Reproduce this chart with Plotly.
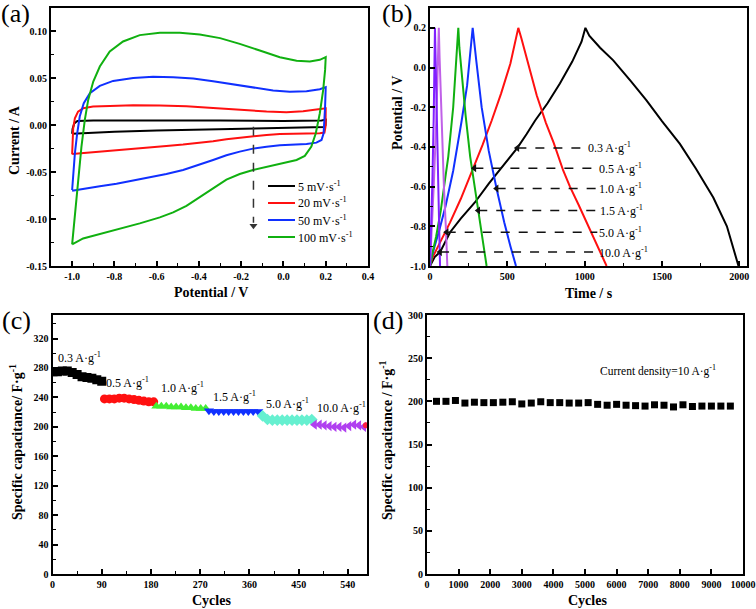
import plotly.graph_objects as go

# ---------------- (a) cyclic voltammetry ----------------
cv_names = ["5 mV·s<sup>-1</sup>", "20 mV·s<sup>-1</sup>", "50 mV·s<sup>-1</sup>", "100 mV·s<sup>-1</sup>"]
cv_colors = ["#000000", "#ff1010", "#1030ff", "#10b010"]

cv5_v = [-1.0, -0.998, -0.99, -0.975, -0.9, -0.6, -0.3, 0.0, 0.1, 0.18, 0.2,
         0.199, 0.195, 0.15, 0.0, -0.2, -0.4, -0.6, -0.8, -1.0, -1.0]
cv5_i = [-0.009, -0.004, 0.002, 0.0045, 0.0052, 0.0056, 0.0052, 0.0045, 0.0045, 0.005, 0.006,
         0.0, -0.0018, -0.002, -0.0025, -0.003, -0.004, -0.0055, -0.007, -0.0085, -0.009]

cv20_v = [-1.0, -0.998, -0.995, -0.987, -0.972, -0.948, -0.901, -0.822, -0.711, -0.585, -0.459,
          -0.333, -0.207, -0.08, 0.014, 0.093, 0.156, 0.2,
          0.199, 0.194, 0.172, 0.109, 0.046, -0.017, -0.08, -0.144, -0.207, -0.27, -0.333,
          -0.396, -0.475, -0.554, -0.632, -0.711, -0.79, -0.869, -0.948, -1.0]
cv20_i = [-0.031, -0.0157, -0.0032, 0.0075, 0.0146, 0.0181, 0.0199, 0.0206, 0.0214, 0.021, 0.0203,
          0.0185, 0.0164, 0.0146, 0.0139, 0.0149, 0.0167, 0.0181,
          -0.0014, -0.0078, -0.0085, -0.0085, -0.0085, -0.0093, -0.0103, -0.0117, -0.0132, -0.0149, -0.0171,
          -0.0189, -0.0206, -0.0221, -0.0235, -0.0249, -0.0263, -0.0278, -0.0292, -0.0306]

cv50_v = [-1.0, -0.995, -0.987, -0.976, -0.964, -0.945, -0.916, -0.869, -0.806, -0.711, -0.617,
          -0.522, -0.427, -0.333, -0.238, -0.144, -0.049, 0.03, 0.109, 0.172, 0.2,
          0.197, 0.19, 0.18, 0.156, 0.109, 0.046, -0.017, -0.08, -0.144, -0.207, -0.27, -0.333,
          -0.396, -0.475, -0.554, -0.632, -0.711, -0.79, -0.869, -0.948, -1.0]
cv50_i = [-0.069, -0.0512, -0.03, -0.0085, 0.0093, 0.0235, 0.0342, 0.042, 0.0473, 0.0505, 0.0516,
          0.0512, 0.0498, 0.047, 0.0434, 0.0399, 0.037, 0.0356, 0.0363, 0.0384, 0.0406,
          0.02, -0.0085, -0.0157, -0.0185, -0.02, -0.0206, -0.0214, -0.0228, -0.0249, -0.0281, -0.032, -0.037,
          -0.042, -0.0477, -0.052, -0.0555, -0.0591, -0.0623, -0.0651, -0.0676, -0.0698]

cv100_v = [-1.0, -0.987, -0.972, -0.956, -0.94, -0.924, -0.9, -0.869, -0.822, -0.759, -0.68,
           -0.585, -0.49, -0.396, -0.3, -0.207, -0.112, -0.017, 0.062, 0.125, 0.172, 0.2,
           0.197, 0.188, 0.172, 0.153, 0.132, 0.101, 0.062, 0.014, -0.033, -0.08, -0.144, -0.207,
           -0.27, -0.333, -0.396, -0.459, -0.522, -0.585, -0.68, -0.774, -0.869, -0.948, -1.0]
cv100_i = [-0.127, -0.094, -0.058, -0.023, 0.0057, 0.027, 0.0466, 0.0626, 0.0786, 0.0893, 0.0961,
           0.0986, 0.0986, 0.0968, 0.0929, 0.0868, 0.0797, 0.0726, 0.0687, 0.068, 0.0698, 0.0726,
           0.059, 0.0377, 0.0128, -0.0085, -0.0228, -0.0327, -0.037, -0.0395, -0.0413, -0.0441, -0.0477, -0.052,
           -0.058, -0.0673, -0.0769, -0.0858, -0.0929, -0.0982, -0.1046, -0.11, -0.1153, -0.1206, -0.127]

cv_arrow_v = [-0.142, -0.142]
cv_arrow_i = [-0.0015, -0.104]
cv_arrow_head_i = [-0.107]

a_xticks = [-1.0, -0.8, -0.6, -0.4, -0.2, 0.0, 0.2, 0.4]
a_xlabels = ["-1.0", "-0.8", "-0.6", "-0.4", "-0.2", "0.0", "0.2", "0.4"]
a_yticks = [0.10, 0.05, 0.0, -0.05, -0.10, -0.15]
a_ylabels = ["0.10", "0.05", "0.00", "-0.05", "-0.10", "-0.15"]

# ---------------- (b) galvanostatic charge-discharge ----------------
gcd_colors = ["#000000", "#ff1010", "#1030ff", "#10b010", "#c060e8", "#8020ff"]
gcd03_t = [0, 30, 65, 130, 200, 290, 380, 470, 565, 625, 680, 760, 840, 920, 980, 1005,
           1030, 1100, 1185, 1300, 1400, 1500, 1616, 1720, 1832, 1920, 1995]
gcd03_v = [-1.0, -0.955, -0.93, -0.83, -0.76, -0.68, -0.585, -0.5, -0.405, -0.335, -0.267, -0.18, -0.08, 0.03, 0.13, 0.2,
           0.16, 0.1, 0.036, -0.07, -0.166, -0.27, -0.385, -0.51, -0.655, -0.8, -1.0]
gcd05_t = [0, 15, 40, 80, 130, 200, 280, 340, 399, 460, 520, 571,
           590, 625, 690, 750, 800, 862, 905, 960, 1013, 1080, 1142]
gcd05_v = [-1.0, -0.96, -0.92, -0.86, -0.78, -0.66, -0.508, -0.39, -0.267, -0.13, 0.02, 0.2,
           0.15, 0.05, -0.14, -0.28, -0.38, -0.52, -0.6, -0.69, -0.78, -0.89, -1.0]
gcd10_t = [0, 10, 30, 60, 100, 150, 205, 240, 276, 285, 300, 334, 380, 431, 480, 520, 556]
gcd10_v = [-1.0, -0.96, -0.9, -0.82, -0.7, -0.52, -0.267, -0.09, 0.2, 0.13, 0.03, -0.2, -0.42, -0.612, -0.78, -0.9, -1.0]
gcd15_t = [0, 8, 20, 40, 70, 100, 118, 150, 183, 190, 205, 230, 260, 290, 312, 340, 366]
gcd15_v = [-1.0, -0.96, -0.92, -0.85, -0.72, -0.55, -0.45, -0.2, 0.2, 0.1, -0.04, -0.24, -0.45, -0.61, -0.72, -0.86, -1.0]
gcd50_t = [0, 10, 25, 40, 50, 57, 62, 75, 90, 104, 112]
gcd50_v = [-1.0, -0.85, -0.58, -0.28, -0.05, 0.2, 0.05, -0.3, -0.6, -0.83, -1.0]
gcd100_t = [0, 8, 16, 24, 32, 36, 44, 54, 62, 65]
gcd100_v = [-1.0, -0.82, -0.55, -0.25, 0.2, 0.05, -0.3, -0.65, -0.9, -1.0]

gcd_label_text = ["0.3 A·g<sup>-1</sup>", "0.5 A·g<sup>-1</sup>", "1.0 A·g<sup>-1</sup>",
                  "1.5 A·g<sup>-1</sup>", "5.0 A·g<sup>-1</sup>", "10.0 A·g<sup>-1</sup>"]
gcd_label_v = [-0.405, -0.507, -0.61, -0.72, -0.83, -0.93]
gcd_tip_t = [565, 287, 431, 312, 108, 65]
gcd_line_end_t = [1015, 1082, 1082, 1085, 1082, 1080]
gcd_text_t = [1009, 1080, 1080, 1085, 1080, 1078]

b_xticks = [0, 500, 1000, 1500, 2000]
b_xlabels = ["0", "500", "1000", "1500", "2000"]
b_yticks = [0.2, 0.0, -0.2, -0.4, -0.6, -0.8, -1.0]
b_ylabels = ["0.2", "0.0", "-0.2", "-0.4", "-0.6", "-0.8", "-1.0"]

# ---------------- (c) rate capability ----------------
rate_symbols = ["square", "circle", "triangle-up", "triangle-down", "diamond", "triangle-left"]
rate_colors = ["#000000", "#ff1010", "#44ee33", "#1030ff", "#66f0d0", "#b040f0"]
rate_cycles = [
    [1, 9, 18, 27, 36, 45, 54, 63, 72, 81, 90],
    [95, 104, 113, 122, 131, 140, 149, 158, 167, 176, 185],
    [190, 199, 208, 217, 226, 235, 244, 253, 262, 271, 280],
    [286, 295, 304, 313, 322, 331, 340, 349, 358, 367, 376],
    [384, 393, 402, 411, 420, 429, 438, 447, 456, 465, 474],
    [479, 488, 497, 506, 515, 524, 533, 542, 551, 560, 569],
]
rate_values = [
    [275, 275, 276, 276, 274, 271, 268, 267, 266, 264, 262],
    [238, 238, 238, 239, 239, 238, 237, 236, 235, 234, 234],
    [228, 228, 228, 227, 227, 227, 226, 226, 225, 225, 225],
    [222, 221, 221, 221, 221, 221, 221, 221, 221, 221, 221],
    [215, 210, 209, 209, 209, 209, 209, 209, 209, 209, 210],
    [203, 203, 202, 201, 200, 200, 199, 201, 203, 202, 200],
]
rate_end_cycle = [573]
rate_end_value = [202]
rate_label_text = ["0.3 A·g<sup>-1</sup>", "0.5 A·g<sup>-1</sup>", "1.0 A·g<sup>-1</sup>",
                   "1.5 A·g<sup>-1</sup>", "5.0 A·g<sup>-1</sup>", "10.0 A·g<sup>-1</sup>"]
rate_label_x = [50, 138, 237, 332, 430, 528]
rate_label_y = [294, 260, 253, 241, 232, 226]

c_xticks = [0, 90, 180, 270, 360, 450, 540]
c_xlabels = ["0", "90", "180", "270", "360", "450", "540"]
c_yticks = [0, 40, 80, 120, 160, 200, 240, 280, 320]
c_ylabels = ["0", "40", "80", "120", "160", "200", "240", "280", "320"]

# ---------------- (d) cycling stability ----------------
cyc_x = [300, 600, 900, 1200, 1500, 1800, 2100, 2400, 2700, 3000, 3300, 3600, 3900, 4200, 4500, 4800,
         5100, 5400, 5700, 6000, 6300, 6600, 6900, 7200, 7500, 7800, 8100, 8400, 8700, 9000, 9300, 9600]
cyc_y = [200, 200, 201, 198, 199, 198.5, 198.5, 199, 199.5, 197, 198, 199.5, 198.5, 198.5, 198, 198,
         198.5, 196.5, 195.5, 196.5, 195.5, 195, 194.5, 196, 195.5, 193.5, 196, 194, 194.5, 194.5, 194.5, 194.5]
d_xticks = [0, 1000, 2000, 3000, 4000, 5000, 6000, 7000, 8000, 9000, 10000]
d_xlabels = [str(v) for v in d_xticks]
d_yticks = [0, 50, 100, 150, 200, 250, 300]
d_ylabels = [str(v) for v in d_yticks]

SERIF = "Liberation Serif"
W, H = 756, 609

fig = go.Figure()

# (a)
for v, i, name, col in zip([cv5_v, cv20_v, cv50_v, cv100_v], [cv5_i, cv20_i, cv50_i, cv100_i], cv_names, cv_colors):
    fig.add_trace(go.Scatter(x=v, y=i, mode="lines", name=name, line=dict(color=col, width=2),
                             xaxis="x", yaxis="y", showlegend=False))
fig.add_trace(go.Scatter(x=cv_arrow_v, y=cv_arrow_i, mode="lines", line=dict(color="#333333", width=1.5, dash="dash"),
                         xaxis="x", yaxis="y", showlegend=False))
fig.add_trace(go.Scatter(x=cv_arrow_v[:1], y=cv_arrow_head_i, mode="markers",
                         marker=dict(symbol="triangle-down", size=7, color="#333333"),
                         xaxis="x", yaxis="y", showlegend=False))

# (b)
for t, v, col in zip([gcd03_t, gcd05_t, gcd10_t, gcd15_t, gcd50_t, gcd100_t],
                     [gcd03_v, gcd05_v, gcd10_v, gcd15_v, gcd50_v, gcd100_v], gcd_colors):
    fig.add_trace(go.Scatter(x=t, y=v, mode="lines", line=dict(color=col, width=2),
                             xaxis="x2", yaxis="y2", showlegend=False))
for lv, tip, lend in zip(gcd_label_v, gcd_tip_t, gcd_line_end_t):
    fig.add_trace(go.Scatter(x=[tip, lend], y=[lv, lv], mode="lines",
                             line=dict(color="#111111", width=1.5, dash="dash"),
                             xaxis="x2", yaxis="y2", showlegend=False))
fig.add_trace(go.Scatter(x=gcd_tip_t, y=gcd_label_v, mode="markers",
                         marker=dict(symbol="triangle-left", size=7, color="#111111"),
                         xaxis="x2", yaxis="y2", showlegend=False))

# (c)
for cx, cy, sym, col in zip(rate_cycles, rate_values, rate_symbols, rate_colors):
    fig.add_trace(go.Scatter(x=cx, y=cy, mode="markers",
                             marker=dict(symbol=sym, size=9, color=col, line=dict(width=0)),
                             xaxis="x3", yaxis="y3", showlegend=False))
fig.add_trace(go.Scatter(x=rate_end_cycle, y=rate_end_value, mode="markers",
                         marker=dict(symbol="circle", size=6, color="#ff2040"),
                         xaxis="x3", yaxis="y3", showlegend=False))

# (d)
fig.add_trace(go.Scatter(x=cyc_x, y=cyc_y, mode="markers",
                         marker=dict(symbol="square", size=7, color="#000000"),
                         xaxis="x4", yaxis="y4", showlegend=False))

tickfont = dict(family=SERIF, size=10, color="black", weight="bold")


def ax(domain, rng, tv, tt, minor_dtick, anchor):
    d = dict(domain=domain, range=rng, tickvals=tv, ticktext=tt, tickfont=tickfont,
             showline=True, linecolor="black", linewidth=2, mirror=True,
             ticks="inside", ticklen=5, tickwidth=1.5, tickcolor="black",
             showgrid=False, zeroline=False, anchor=anchor, fixedrange=True, automargin=False)
    if minor_dtick:
        d["minor"] = dict(ticks="inside", ticklen=3, tickwidth=1.2, tickcolor="black",
                          dtick=minor_dtick, showgrid=False)
    return d


ya_dom = [1 - 266 / H, 1 - 8 / H]
yc_dom = [1 - 574 / H, 1 - 315 / H]

fig.update_layout(
    width=W, height=H, margin=dict(l=0, r=0, t=0, b=0, autoexpand=False),
    paper_bgcolor="white", plot_bgcolor="white",
    font=dict(family=SERIF, color="black"),
    showlegend=False,
    xaxis=ax([51 / W, 368 / W], [-1.1, 0.4], a_xticks, a_xlabels, 0.1, "y"),
    yaxis=ax(ya_dom, [-0.15, 0.125], a_yticks, a_ylabels, 0.025, "x"),
    xaxis2=ax([430 / W, 747 / W], [0, 2050], b_xticks, b_xlabels, 250, "y2"),
    yaxis2=ax(ya_dom, [-1.0, 0.3], b_yticks, b_ylabels, 0.1, "x2"),
    xaxis3=ax([52.5 / W, 367 / W], [0, 575], c_xticks, c_xlabels, 45, "y3"),
    yaxis3=ax(yc_dom, [0, 352], c_yticks, c_ylabels, 20, "x3"),
    xaxis4=ax([427 / W, 743 / W], [0, 10000], d_xticks, d_xlabels, None, "y4"),
    yaxis4=ax(yc_dom, [0, 300], d_yticks, d_ylabels, 25, "x4"),
)

ann = []
shapes = []
# manual legend for (a)
legend_rows_px = [186, 203, 220, 237]
for name, col, ry in zip(cv_names, cv_colors, legend_rows_px):
    shapes.append(dict(type="line", xref="paper", yref="paper", x0=268 / W, x1=295 / W,
                       y0=1 - ry / H, y1=1 - ry / H, line=dict(color=col, width=2)))
    ann.append(dict(text=name, x=296 / W, y=1 - ry / H, xref="paper", yref="paper", showarrow=False,
                    xanchor="left", yanchor="middle", font=dict(family=SERIF, size=12, color="black")))
# panel labels
for txt, x, y in [("(a)", 15, 14), ("(b)", 397, 14), ("(c)", 16, 320), ("(d)", 388, 320)]:
    ann.append(dict(text=txt, x=x / W, y=1 - y / H, xref="paper", yref="paper", showarrow=False,
                    font=dict(family=SERIF, size=26, color="black"), xanchor="center", yanchor="middle"))
# axis titles
title_font = dict(family=SERIF, size=14, color="black", weight="bold")
for txt, x, y, ang in [("Potential / V", 211, 292, 0), ("Current / A", 15, 140, -90),
                       ("Time / s", 589, 293, 0), ("Potential / V", 397, 113, -90),
                       ("Cycles", 211, 600, 0), ("Specific capacitance/ F·g<sup>-1</sup>", 16, 442, -90),
                       ("Cycles", 587, 600, 0), ("Specific capacitance / F·g<sup>-1</sup>", 386, 440, -90)]:
    ann.append(dict(text=txt, x=x / W, y=1 - y / H, xref="paper", yref="paper", showarrow=False,
                    font=title_font, textangle=ang, xanchor="center", yanchor="middle"))
# (b) labels
for txt, tx, lv in zip(gcd_label_text, gcd_text_t, gcd_label_v):
    ann.append(dict(text=txt, x=tx, y=lv, xref="x2", yref="y2", showarrow=False, xanchor="left",
                    yanchor="middle", font=dict(family=SERIF, size=12, color="black")))
# (c) labels
for txt, lx, ly in zip(rate_label_text, rate_label_x, rate_label_y):
    ann.append(dict(text=txt, x=lx, y=ly, xref="x3", yref="y3", showarrow=False, xanchor="center",
                    yanchor="middle", font=dict(family=SERIF, size=12, color="black")))
# (d) label
ann.append(dict(text="Current density=10 A·g<sup>-1</sup>", x=7320, y=236, xref="x4", yref="y4",
                showarrow=False, xanchor="center", yanchor="middle",
                font=dict(family=SERIF, size=11.5, color="black")))
fig.update_layout(annotations=ann, shapes=shapes)

fig.write_html("out.html", config={"displayModeBar": False},
               post_script="document.body.style.margin='0px';document.body.style.overflow='hidden';")
